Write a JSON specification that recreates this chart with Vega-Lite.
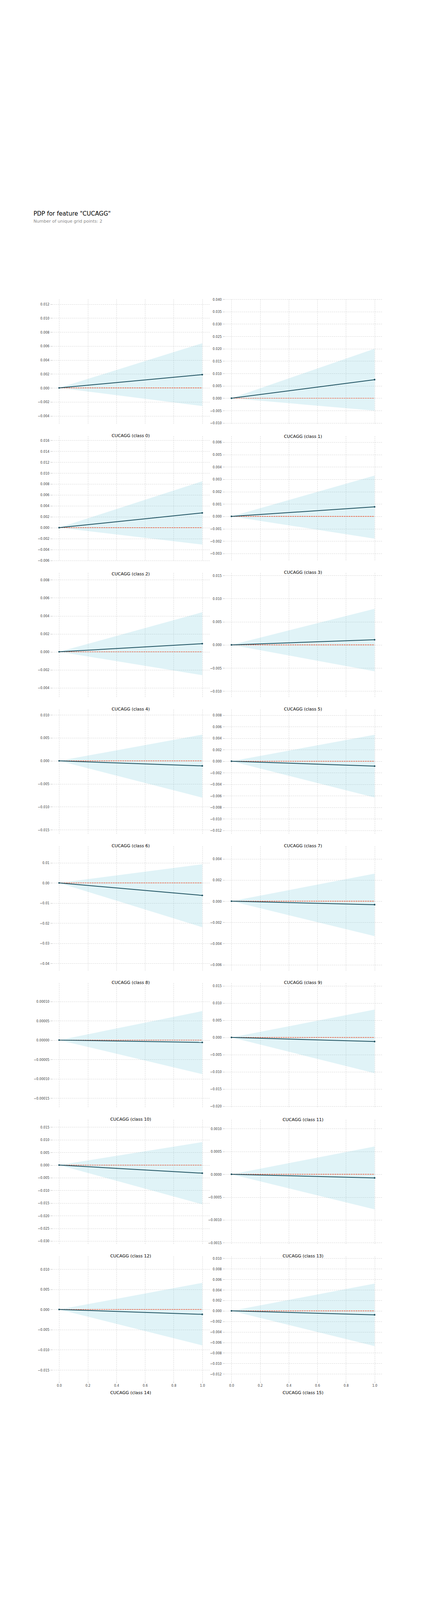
{
  "$schema": "https://vega.github.io/schema/vega-lite/v6.json",
  "description": "PDP for feature CUCAGG, one panel per class.",
  "padding": {"left": 85, "top": 540, "right": 20, "bottom": 20},
  "title": {
    "text": "PDP for feature \"CUCAGG\"",
    "subtitle": "Number of unique grid points: 2",
    "anchor": "start",
    "fontSize": 15,
    "fontWeight": "normal",
    "font": "DejaVu Sans",
    "subtitleFont": "DejaVu Sans",
    "subtitleFontSize": 11,
    "subtitleColor": "#888888",
    "subtitlePadding": 6,
    "offset": 190
  },
  "data": {
    "values": [
      {"cls": 0, "x": 0, "pdp": 0, "lo": 0, "hi": 0},
      {"cls": 0, "x": 1, "pdp": 0.0019, "lo": -0.0026, "hi": 0.0064, "ymin": -0.0052, "ymax": 0.0127},
      {"cls": 1, "x": 0, "pdp": 0, "lo": 0, "hi": 0},
      {"cls": 1, "x": 1, "pdp": 0.0075, "lo": -0.005, "hi": 0.02, "ymin": -0.0105, "ymax": 0.04},
      {"cls": 2, "x": 0, "pdp": 0, "lo": 0, "hi": 0},
      {"cls": 2, "x": 1, "pdp": 0.0027, "lo": -0.0031, "hi": 0.0085, "ymin": -0.0061, "ymax": 0.0168},
      {"cls": 3, "x": 0, "pdp": 0, "lo": 0, "hi": 0},
      {"cls": 3, "x": 1, "pdp": 0.00077, "lo": -0.0018, "hi": 0.0033, "ymin": -0.0036, "ymax": 0.0065},
      {"cls": 4, "x": 0, "pdp": 0, "lo": 0, "hi": 0},
      {"cls": 4, "x": 1, "pdp": 0.0009, "lo": -0.0026, "hi": 0.0044, "ymin": -0.0051, "ymax": 0.0088},
      {"cls": 5, "x": 0, "pdp": 0, "lo": 0, "hi": 0},
      {"cls": 5, "x": 1, "pdp": 0.0011, "lo": -0.0057, "hi": 0.0078, "ymin": -0.0114, "ymax": 0.0156},
      {"cls": 6, "x": 0, "pdp": 0, "lo": 0, "hi": 0},
      {"cls": 6, "x": 1, "pdp": -0.0011, "lo": -0.008, "hi": 0.0057, "ymin": -0.016, "ymax": 0.0112},
      {"cls": 7, "x": 0, "pdp": 0, "lo": 0, "hi": 0},
      {"cls": 7, "x": 1, "pdp": -0.00085, "lo": -0.0063, "hi": 0.0046, "ymin": -0.0127, "ymax": 0.009},
      {"cls": 8, "x": 0, "pdp": 0, "lo": 0, "hi": 0},
      {"cls": 8, "x": 1, "pdp": -0.0062, "lo": -0.022, "hi": 0.0093, "ymin": -0.0438, "ymax": 0.0183},
      {"cls": 9, "x": 0, "pdp": 0, "lo": 0, "hi": 0},
      {"cls": 9, "x": 1, "pdp": -0.00033, "lo": -0.0033, "hi": 0.0026, "ymin": -0.0066, "ymax": 0.0052},
      {"cls": 10, "x": 0, "pdp": 0, "lo": 0, "hi": 0},
      {"cls": 10, "x": 1, "pdp": -0.000006, "lo": -0.000088, "hi": 0.000075, "ymin": -0.000175, "ymax": 0.000148},
      {"cls": 11, "x": 0, "pdp": 0, "lo": 0, "hi": 0},
      {"cls": 11, "x": 1, "pdp": -0.0012, "lo": -0.0104, "hi": 0.0081, "ymin": -0.0205, "ymax": 0.0159},
      {"cls": 12, "x": 0, "pdp": 0, "lo": 0, "hi": 0},
      {"cls": 12, "x": 1, "pdp": -0.0032, "lo": -0.0155, "hi": 0.0091, "ymin": -0.0314, "ymax": 0.018},
      {"cls": 13, "x": 0, "pdp": 0, "lo": 0, "hi": 0},
      {"cls": 13, "x": 1, "pdp": -0.00008, "lo": -0.00077, "hi": 0.00061, "ymin": -0.00154, "ymax": 0.0012},
      {"cls": 14, "x": 0, "pdp": 0, "lo": 0, "hi": 0},
      {"cls": 14, "x": 1, "pdp": -0.0012, "lo": -0.0089, "hi": 0.0066, "ymin": -0.0178, "ymax": 0.0132},
      {"cls": 15, "x": 0, "pdp": 0, "lo": 0, "hi": 0},
      {"cls": 15, "x": 1, "pdp": -0.00075, "lo": -0.0067, "hi": 0.0052, "ymin": -0.0134, "ymax": 0.0104}
    ]
  },
  "facet": {
    "field": "cls",
    "type": "ordinal",
    "title": null,
    "header": {
      "labelOrient": "bottom",
      "labelExpr": "'CUCAGG (class ' + datum.value + ')'",
      "labelFontSize": 11,
      "labelColor": "#000000",
      "labelFont": "DejaVu Sans",
      "labelPadding": 24
    }
  },
  "columns": 2,
  "bounds": "flush",
  "spacing": {"column": 38, "row": 30},
  "resolve": {"scale": {"y": "independent"}},
  "spec": {
    "width": 403,
    "height": 320,
    "encoding": {
      "x": {
        "field": "x",
        "type": "quantitative",
        "title": null,
        "scale": {"domain": [-0.05, 1.05], "nice": false},
        "axis": {"values": [0, 0.2, 0.4, 0.6, 0.8, 1.0], "format": ".1f"}
      }
    },
    "layer": [
      {
        "mark": {"type": "rule", "strokeOpacity": 0},
        "encoding": {
          "y": {"field": "ymin", "type": "quantitative", "title": null, "scale": {"zero": false, "nice": false}},
          "y2": {"field": "ymax"}
        }
      },
      {
        "mark": {"type": "area", "color": "#66C2D7", "opacity": 0.2},
        "encoding": {
          "y": {"field": "lo", "type": "quantitative"},
          "y2": {"field": "hi"}
        }
      },
      {
        "mark": {"type": "rule", "color": "#EF4B27", "strokeDash": [4, 2], "strokeWidth": 1},
        "encoding": {"y": {"datum": 0}, "x": {"datum": 0}, "x2": {"datum": 1}}
      },
      {
        "mark": {"type": "line", "color": "#1A4E5D", "strokeWidth": 2, "point": {"color": "#1A4E5D", "size": 18, "filled": true}},
        "encoding": {"y": {"field": "pdp", "type": "quantitative"}}
      }
    ]
  },
  "config": {
    "view": {"stroke": null},
    "font": "DejaVu Sans",
    "axis": {
      "domain": false,
      "ticks": true,
      "tickColor": "#bbbbbb",
      "tickSize": 4,
      "grid": true,
      "gridColor": "#bbbbbb",
      "gridDash": [3, 2],
      "gridWidth": 0.6,
      "labelFontSize": 9,
      "labelColor": "#444444",
      "labelFont": "DejaVu Sans Condensed"
    },
    "axisY": {"tickCount": 8, "labelPadding": 3}
  }
}
